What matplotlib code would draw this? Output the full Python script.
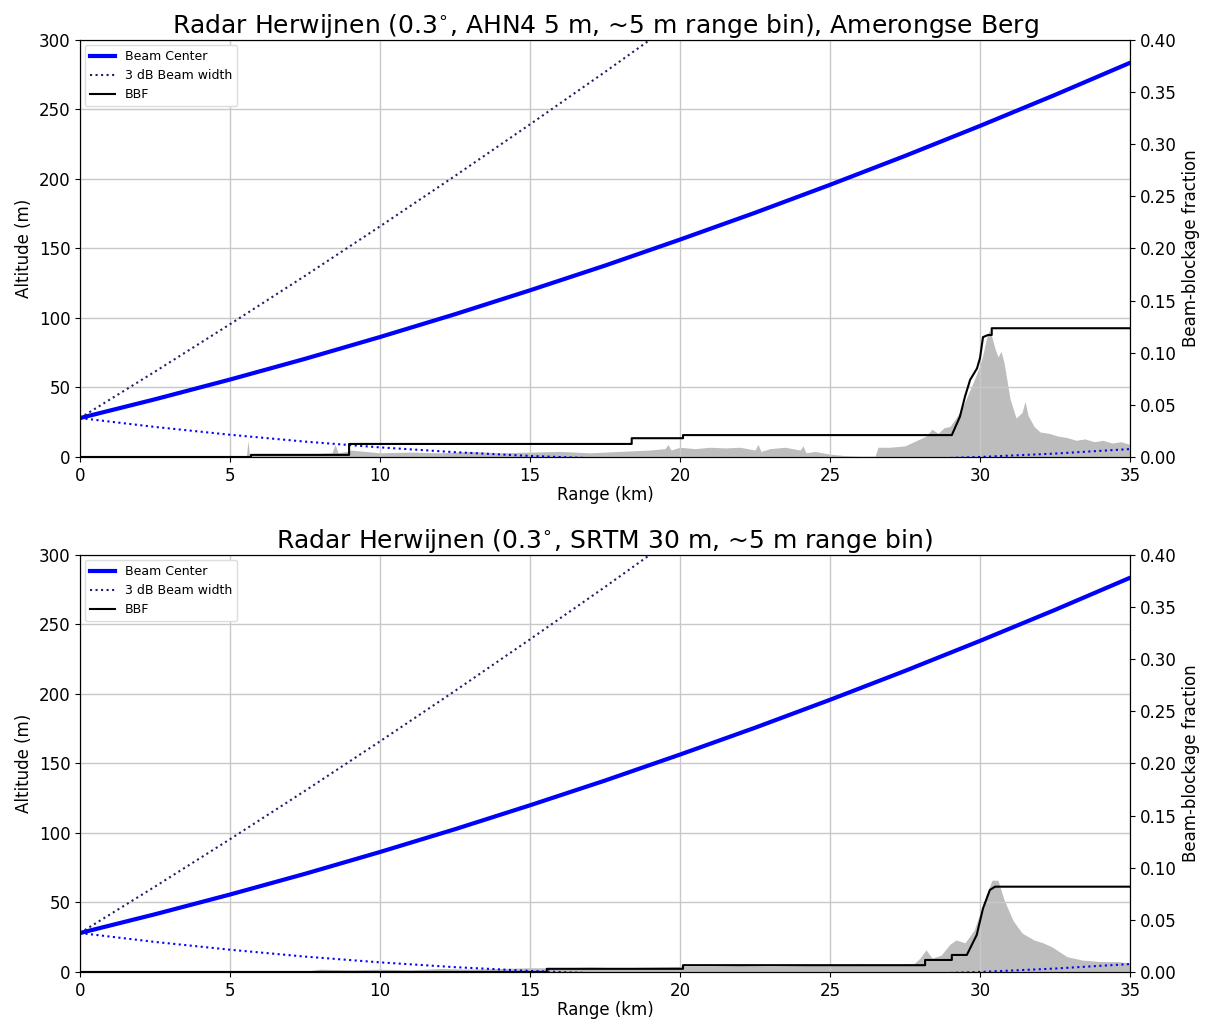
import matplotlib
matplotlib.use("Agg")
import matplotlib.pyplot as plt

# beam geometry (m) read at 2.5 km steps
beam_rng = [0, 2.5, 5, 7.5, 10, 12.5, 15, 17.5, 20, 22.5, 25, 27.5, 30, 32.5, 35]
beam_center = [28, 41.5, 55.7, 70.6, 86.3, 102.7, 119.9, 137.7, 156.4, 175.7, 195.8, 216.6, 238.2, 260.5, 283.6]
beam_upper = [28, 61.4, 95.5, 130.3, 165.9, 202.2, 239.3, 277.0, 315.6, 355, 395, 436, 478, 521, 565]
beam_lower = [28, 21.6, 16.0, 11.05, 6.9, 3.45, 0.75, -1.25, -2.4, -2.95, -2.7, -1.75, 0.0, 2.45, 5.7]

# terrain under the beam, AHN4 5 m (top panel)
ahn_rng = [0, 5.55, 5.6, 5.65, 5.7, 6.5, 7.5, 8.4, 8.5, 8.6, 8.9, 9.0, 10, 11, 12, 13, 14, 15, 16,
           17, 18, 18.5, 19.0, 19.5, 19.6, 19.7, 20.0, 20.5, 21.0, 21.5, 22.0, 22.5, 22.6, 22.7, 23.0,
           23.5, 24.0, 24.1, 24.2, 24.5, 25.0, 25.5, 26.0, 26.5, 26.6, 27.0, 27.5, 28.0, 28.2, 28.4,
           28.6, 28.8, 29.0, 29.2, 29.4, 29.6, 29.8, 30.0, 30.1, 30.2, 30.3, 30.4, 30.5, 30.6, 30.7,
           30.8, 30.9, 31.0, 31.2, 31.4, 31.5, 31.6, 31.8, 32.0, 32.3, 32.6, 32.9, 33.2, 33.5, 33.8,
           34.1, 34.4, 34.7, 35.0]
ahn_alt = [0.5, 1, 12, 1, 1.5, 2, 2, 3, 9, 3, 4, 5, 3, 3.5, 3, 4, 3, 3.5, 4,
           3, 4, 4.5, 5, 6, 9, 5, 7, 6, 7, 6.5, 7, 5, 9, 4, 6,
           7, 5, 8, 3, 4, 2, 1, 0.5, 0.5, 7, 7, 8, 13, 15, 20,
           17, 21, 22, 28, 35, 45, 55, 66, 74, 84, 91, 86, 78, 72, 76,
           68, 55, 42, 28, 32, 40, 30, 22, 18, 17, 15, 14, 12, 13, 11,
           12, 10, 11, 9]

# terrain under the beam, SRTM 30 m (bottom panel)
srtm_rng = [0, 7.5, 8, 9, 10, 11, 12, 13, 14, 15, 16, 17, 18, 19, 20, 21, 22, 23, 24, 25, 26, 27,
            27.8, 28.0, 28.2, 28.4, 28.7, 29.0, 29.2, 29.5, 29.8, 30.0, 30.2, 30.4, 30.6, 30.8, 31.1,
            31.4, 31.8, 32.1, 32.4, 32.9, 33.4, 34.0, 34.6, 35.0]
srtm_alt = [0, 0.5, 2, 1.5, 2, 1.5, 2.5, 2, 2.5, 3, 3, 3.5, 3, 3.5, 4, 4, 4.5, 4, 4.5, 5, 5.5, 5,
            6, 10, 16, 10, 12, 20, 23, 21, 30, 42, 55, 66, 66, 52, 37,
            28, 23, 21, 18, 11, 8.6, 7.5, 7.4, 6.5]

# beam-blockage fraction (repeated ranges give the vertical jumps)
bbf_ahn_rng = [0, 5.7, 5.7, 8.97, 8.97, 18.39, 18.39, 20.1, 20.1, 29.06, 29.33, 29.5, 29.67,
               29.9, 30.0, 30.1, 30.27, 30.39, 30.39, 35.0]
bbf_ahn = [0, 0, 0.002, 0.002, 0.0125, 0.0125, 0.018, 0.018, 0.021, 0.021, 0.0387, 0.058, 0.074,
           0.085, 0.095, 0.115, 0.117, 0.117, 0.1235, 0.1235]
bbf_srtm_rng = [0, 15.56, 15.56, 20.1, 20.1, 28.17, 28.17, 29.06, 29.06, 29.56, 29.89, 30.1,
                30.33, 30.5, 35.0]
bbf_srtm = [0, 0, 0.003, 0.003, 0.0065, 0.0065, 0.0115, 0.0115, 0.0163, 0.0163, 0.0355, 0.061,
            0.0787, 0.0818, 0.0818]

titles = ["Radar Herwijnen (0.3$^{\\circ}$, AHN4 5 m, ~5 m range bin), Amerongse Berg",
          "Radar Herwijnen (0.3$^{\\circ}$, SRTM 30 m, ~5 m range bin)"]

fig = plt.figure(figsize=(12.1, 10.23), dpi=100)
panels = [(0.5533, ahn_rng, ahn_alt, bbf_ahn_rng, bbf_ahn, titles[0]),
          (0.0499, srtm_rng, srtm_alt, bbf_srtm_rng, bbf_srtm, titles[1])]

for bottom, t_rng, t_alt, b_rng, b_val, title in panels:
    ax = fig.add_axes([0.0661, bottom, 0.8678, 0.4076])
    ax.fill_between(t_rng, 0, t_alt, color="#bdbdbd", lw=0)
    ax.plot(beam_rng, beam_center, color="blue", lw=3, label="Beam Center")
    ax.plot(beam_rng, beam_upper, color="#20206a", ls=":", lw=1.5, label="3 dB Beam width")
    ax.plot(beam_rng, beam_lower, color="blue", ls=":", lw=1.5)
    ax.set_xlim(0, 35)
    ax.set_ylim(0, 300)
    ax.grid(True, color="#c8c8c8", lw=1)
    ax.set_xlabel("Range (km)", fontsize=12, labelpad=1)
    ax.set_ylabel("Altitude (m)", fontsize=12)
    ax.tick_params(labelsize=12)
    ax.set_title(title, fontsize=18, pad=3)

    ax2 = ax.twinx()
    ax2.plot(b_rng, b_val, color="black", lw=1.5, label="BBF")
    ax2.set_ylim(0, 0.40)
    ax2.set_yticks([0, 0.05, 0.10, 0.15, 0.20, 0.25, 0.30, 0.35, 0.40])
    ax2.set_yticklabels(["0.00", "0.05", "0.10", "0.15", "0.20", "0.25", "0.30", "0.35", "0.40"])
    ax2.tick_params(labelsize=12)
    ax2.set_ylabel("Beam-blockage fraction", fontsize=12)

    h1, l1 = ax.get_legend_handles_labels()
    h2, l2 = ax2.get_legend_handles_labels()
    leg = ax2.legend(h1 + h2, l1 + l2, loc="upper left", fontsize=9, framealpha=1,
                     borderaxespad=0.4)
    leg.get_frame().set_edgecolor("#dddddd")

fig.savefig("out.png", dpi=100)
